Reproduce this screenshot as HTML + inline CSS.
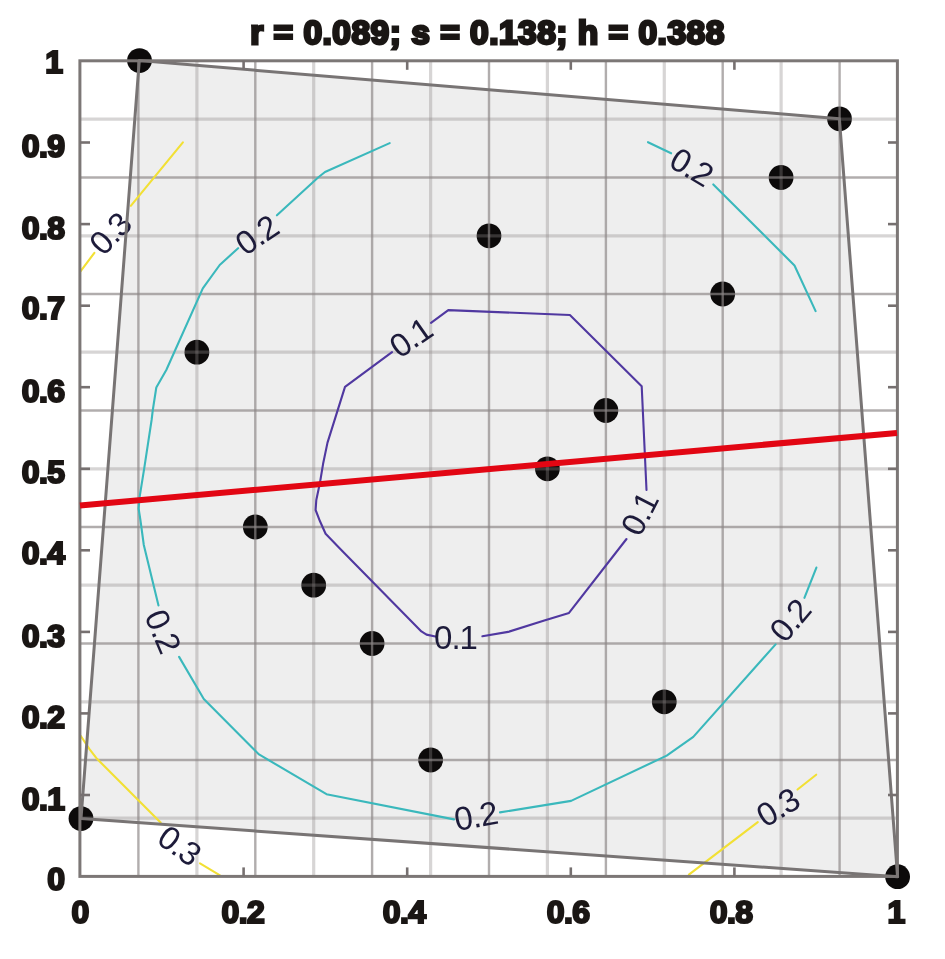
<!DOCTYPE html>
<html><head><meta charset="utf-8"><style>
html,body{margin:0;padding:0;background:#fff;}
body{width:945px;height:959px;overflow:hidden;position:relative;}
svg{position:absolute;left:0;top:0;}
</style></head><body>
<svg width="945" height="959" viewBox="0 0 945 959">
<polygon points="139.3,60.6 839.4,118.8 897.6,876.7 81.0,818.6" fill="#eeeeee"/>
<g fill="#0c0a0a"><circle cx="139.5" cy="60.6" r="12.4"/><circle cx="839.5" cy="118.8" r="12.4"/><circle cx="781.1" cy="177.5" r="12.4"/><circle cx="489.0" cy="235.8" r="12.4"/><circle cx="722.7" cy="294.0" r="12.4"/><circle cx="196.9" cy="352.2" r="12.4"/><circle cx="605.9" cy="410.5" r="12.4"/><circle cx="547.4" cy="468.8" r="12.4"/><circle cx="255.3" cy="527.0" r="12.4"/><circle cx="313.7" cy="585.2" r="12.4"/><circle cx="372.1" cy="643.5" r="12.4"/><circle cx="664.3" cy="701.8" r="12.4"/><circle cx="430.6" cy="760.0" r="12.4"/><circle cx="81.0" cy="818.6" r="12.4"/><circle cx="897.6" cy="876.7" r="12.4"/></g>
<g stroke="#8c8686" stroke-opacity="0.68" stroke-width="2.4"><line x1="138.4" y1="61" x2="138.4" y2="876.5"/><line x1="80" y1="760.0" x2="898" y2="760.0"/><line x1="255.3" y1="61" x2="255.3" y2="876.5"/><line x1="80" y1="643.5" x2="898" y2="643.5"/><line x1="372.1" y1="61" x2="372.1" y2="876.5"/><line x1="80" y1="527.0" x2="898" y2="527.0"/><line x1="489.0" y1="61" x2="489.0" y2="876.5"/><line x1="80" y1="410.5" x2="898" y2="410.5"/><line x1="605.9" y1="61" x2="605.9" y2="876.5"/><line x1="80" y1="294.0" x2="898" y2="294.0"/><line x1="722.7" y1="61" x2="722.7" y2="876.5"/><line x1="80" y1="177.5" x2="898" y2="177.5"/><line x1="839.6" y1="61" x2="839.6" y2="876.5"/></g>
<g stroke="#8c8686" stroke-opacity="0.35" stroke-width="3.2"><line x1="80" y1="818.2" x2="898" y2="818.2"/><line x1="196.9" y1="61" x2="196.9" y2="876.5"/><line x1="80" y1="701.8" x2="898" y2="701.8"/><line x1="313.7" y1="61" x2="313.7" y2="876.5"/><line x1="80" y1="585.2" x2="898" y2="585.2"/><line x1="430.6" y1="61" x2="430.6" y2="876.5"/><line x1="80" y1="468.8" x2="898" y2="468.8"/><line x1="547.4" y1="61" x2="547.4" y2="876.5"/><line x1="80" y1="352.2" x2="898" y2="352.2"/><line x1="664.3" y1="61" x2="664.3" y2="876.5"/><line x1="80" y1="235.8" x2="898" y2="235.8"/><line x1="781.1" y1="61" x2="781.1" y2="876.5"/><line x1="80" y1="119.2" x2="898" y2="119.2"/></g>
<g fill="none" stroke="#5038a0" stroke-width="2.1" stroke-linejoin="round" stroke-linecap="round"><polyline points="431.0,322.9 448.3,310.1 569.9,315.0 641.7,386.3 646.5,490.0"/><polyline points="626.5,539.0 569.0,612.9 544.3,620.5 508.1,631.9 482.4,636.3"/><polyline points="435.4,636.5 426.5,634.6 421.4,631.4 341.3,549.9 325.6,533.8 320.0,521.3 315.6,510.0 316.3,500.0 320.0,482.5 323.1,463.8 327.5,442.6 345.0,386.9 392.0,352.1"/></g>
<g fill="none" stroke="#3ab8bc" stroke-width="2.1" stroke-linejoin="round" stroke-linecap="round"><polyline points="389.7,143.1 325.0,172.0 318.1,177.5 276.9,215.3"/><polyline points="238.1,248.2 219.7,265.0 202.8,288.4 166.3,370.0 156.3,387.5 152.8,410.0 151.6,420.0 144.3,467.9 139.6,497.1 138.6,508.5 140.4,520.0 143.8,545.0 158.5,605.5"/><polyline points="179.1,656.9 203.8,699.0 259.0,754.4 326.5,794.2 454.0,819.4"/><polyline points="500.0,812.4 571.1,800.9 666.7,755.6 693.3,736.9 775.6,644.4"/><polyline points="804.4,597.8 816.4,567.6"/><polyline points="648.0,142.2 671.1,153.3"/><polyline points="713.3,184.4 794.5,265.5 815.6,311.1"/></g>
<g fill="none" stroke="#f2e034" stroke-width="2.1" stroke-linejoin="round" stroke-linecap="round"><polyline points="182.9,142.3 130.8,205.8"/><polyline points="94.4,252.8 80.5,271.4"/><polyline points="80.5,735.5 89.3,748.8 97.0,758.8 160.6,822.6"/><polyline points="200.0,863.4 220.0,875.4"/><polyline points="688.9,874.7 757.8,822.2"/><polyline points="797.5,789.5 816.2,774.7"/></g>
<g font-family="Liberation Sans, sans-serif" font-size="33" letter-spacing="-1.0" fill="#1d1b3a" text-anchor="middle" dominant-baseline="central"><text x="110.2" y="233.6" transform="rotate(-45.5 110.2 233.6)">0.3</text><text x="256.6" y="235" transform="rotate(-34 256.6 235)">0.2</text><text x="410.6" y="337.6" transform="rotate(-35 410.6 337.6)">0.1</text><text x="691.5" y="166.9" transform="rotate(31 691.5 166.9)">0.2</text><text x="639.5" y="513.8" transform="rotate(-63 639.5 513.8)">0.1</text><text x="455.5" y="637.5" transform="rotate(0 455.5 637.5)">0.1</text><text x="162.9" y="631" transform="rotate(67 162.9 631)">0.2</text><text x="475.7" y="816" transform="rotate(-10 475.7 816)">0.2</text><text x="790" y="620.5" transform="rotate(-50 790 620.5)">0.2</text><text x="179.4" y="845.2" transform="rotate(36 179.4 845.2)">0.3</text><text x="777.7" y="807.3" transform="rotate(-31 777.7 807.3)">0.3</text></g>
<polygon points="139.3,60.6 839.4,118.8 897.6,876.7 81.0,818.6" fill="none" stroke="#787474" stroke-width="3" stroke-linejoin="round"/>
<rect x="79.9" y="60.8" width="817.5" height="815.6" fill="none" stroke="#7c7776" stroke-width="3"/>
<g stroke="#767070" stroke-width="2.6"><line x1="80" y1="795.0" x2="90" y2="795.0"/><line x1="897.4" y1="795.0" x2="888" y2="795.0"/><line x1="80" y1="713.4" x2="90" y2="713.4"/><line x1="897.4" y1="713.4" x2="888" y2="713.4"/><line x1="80" y1="631.9" x2="90" y2="631.9"/><line x1="897.4" y1="631.9" x2="888" y2="631.9"/><line x1="80" y1="550.3" x2="90" y2="550.3"/><line x1="897.4" y1="550.3" x2="888" y2="550.3"/><line x1="80" y1="468.8" x2="90" y2="468.8"/><line x1="897.4" y1="468.8" x2="888" y2="468.8"/><line x1="80" y1="387.2" x2="90" y2="387.2"/><line x1="897.4" y1="387.2" x2="888" y2="387.2"/><line x1="80" y1="305.7" x2="90" y2="305.7"/><line x1="897.4" y1="305.7" x2="888" y2="305.7"/><line x1="80" y1="224.1" x2="90" y2="224.1"/><line x1="897.4" y1="224.1" x2="888" y2="224.1"/><line x1="80" y1="142.5" x2="90" y2="142.5"/><line x1="897.4" y1="142.5" x2="888" y2="142.5"/><line x1="243.6" y1="876.4" x2="243.6" y2="867.4"/><line x1="243.6" y1="60.8" x2="243.6" y2="69.8"/><line x1="407.2" y1="876.4" x2="407.2" y2="867.4"/><line x1="407.2" y1="60.8" x2="407.2" y2="69.8"/><line x1="570.8" y1="876.4" x2="570.8" y2="867.4"/><line x1="570.8" y1="60.8" x2="570.8" y2="69.8"/><line x1="734.4" y1="876.4" x2="734.4" y2="867.4"/><line x1="734.4" y1="60.8" x2="734.4" y2="69.8"/></g>
<line x1="80" y1="505.4" x2="897" y2="432.9" stroke="#e20613" stroke-width="6"/>
<g font-family="Liberation Sans, sans-serif" font-weight="bold" font-size="32" letter-spacing="-0.6" fill="#1a1614" stroke="#1a1614" stroke-width="2.2" stroke-linejoin="miter"><text x="80.0" y="923" text-anchor="middle">0</text><text x="242.8" y="923" text-anchor="middle">0.2</text><text x="404.2" y="923" text-anchor="middle">0.4</text><text x="568.2" y="923" text-anchor="middle">0.6</text><text x="731.2" y="923" text-anchor="middle">0.8</text><text x="896.0" y="923" text-anchor="middle">1</text><text x="64.5" y="889.5" text-anchor="end">0</text><text x="64.5" y="809.5" text-anchor="end">0.1</text><text x="64.5" y="728.4" text-anchor="end">0.2</text><text x="64.5" y="647.1" text-anchor="end">0.3</text><text x="64.5" y="563.9" text-anchor="end">0.4</text><text x="64.5" y="483.4" text-anchor="end">0.5</text><text x="64.5" y="402.4" text-anchor="end">0.6</text><text x="64.5" y="319.0" text-anchor="end">0.7</text><text x="64.5" y="238.8" text-anchor="end">0.8</text><text x="64.5" y="157.0" text-anchor="end">0.9</text><text x="62.5" y="73.1" text-anchor="end">1</text></g>
<text x="487.5" y="44" text-anchor="middle" font-family="Liberation Sans, sans-serif" font-weight="bold" font-size="33.5" letter-spacing="0.5" fill="#1a1614" stroke="#1a1614" stroke-width="2.8">r = 0.089; s = 0.138; h = 0.388</text>
</svg>
</body></html>
